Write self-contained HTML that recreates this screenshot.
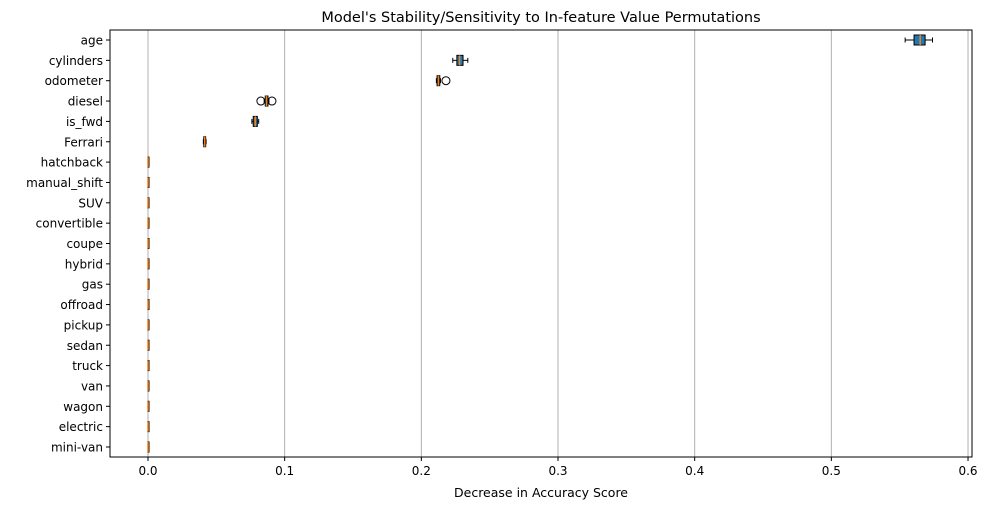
<!DOCTYPE html>
<html><head><meta charset="utf-8"><style>
body{margin:0;background:#fff;font-family:"Liberation Sans","DejaVu Sans",sans-serif}
svg text{font-family:"DejaVu Sans","Liberation Sans",sans-serif}
</style></head><body>
<svg id="c" width="989" height="510"></svg>
<script>
const features=["age","cylinders","odometer","diesel","is_fwd","Ferrari","hatchback","manual_shift","SUV","convertible","coupe","hybrid","gas","offroad","pickup","sedan","truck","van","wagon","electric","mini-van"];
const whiskerLow=[0.554,0.223,0.211,0.085,0.076,0.0405,0,0,0,0,0,0,0,0,0,0,0,0,0,0,0];
const q1s=[0.5605,0.226,0.2115,0.0858,0.077,0.0408,0,0,0,0,0,0,0,0,0,0,0,0,0,0,0];
const medians=[0.565,0.228,0.2125,0.0867,0.0785,0.0415,0,0,0,0,0,0,0,0,0,0,0,0,0,0,0];
const q3s=[0.5686,0.2305,0.2135,0.0878,0.080,0.0422,0,0,0,0,0,0,0,0,0,0,0,0,0,0,0];
const whiskerHigh=[0.574,0.234,0.214,0.0885,0.081,0.0425,0,0,0,0,0,0,0,0,0,0,0,0,0,0,0];
const outliers=[[],[],[0.218],[0.0826,0.0907],[],[],[],[],[],[],[],[],[],[],[],[],[],[],[],[],[]];
const xTicks=[0,0.1,0.2,0.3,0.4,0.5,0.6];
const xTickLabels=["0.0","0.1","0.2","0.3","0.4","0.5","0.6"];
const L=110,R=972,T=30,B=457;
const x=v=>148+v*1366.7;
const y=i=>40+i*20.35;
const svg=document.getElementById('c');
const NS="http://www.w3.org/2000/svg";
function add(tag,attrs,parent){const e=document.createElementNS(NS,tag);for(const k in attrs)e.setAttribute(k,attrs[k]);(parent||svg).appendChild(e);return e;}
// grid
xTicks.forEach((t,i)=>{
 const g=add('line',{x1:x(t),x2:x(t),y1:T,y2:B,stroke:'#b0b0b0','stroke-width':1});
 
 
 add('line',{x1:x(t),x2:x(t),y1:B,y2:B+4,stroke:'#000'});
 const tx=add('text',{x:x(t),y:B+18,'text-anchor':'middle','font-size':12});
 tx.textContent=xTickLabels[i];
 
 
});
features.forEach((f,i)=>{
 const yc=y(i);
 add('line',{x1:L-4,x2:L,y1:yc,y2:yc,stroke:'#000'});
 const tx=add('text',{x:L-7,y:yc+4.5,'text-anchor':'end','font-size':12});
 tx.textContent=f;
 
 
 const g=add('g',{});
 
 
 const h=5;
 add('line',{x1:x(whiskerLow[i]),x2:x(q1s[i]),y1:yc,y2:yc,stroke:'#000'},g);
 add('line',{x1:x(q3s[i]),x2:x(whiskerHigh[i]),y1:yc,y2:yc,stroke:'#000'},g);
 add('line',{x1:x(whiskerLow[i]),x2:x(whiskerLow[i]),y1:yc-2.5,y2:yc+2.5,stroke:'#000'},g);
 add('line',{x1:x(whiskerHigh[i]),x2:x(whiskerHigh[i]),y1:yc-2.5,y2:yc+2.5,stroke:'#000'},g);
 const bw=Math.max(x(q3s[i])-x(q1s[i]),1);
 add('rect',{x:x(q1s[i]),y:yc-h,width:bw,height:2*h,fill:'#1f77b4',stroke:'#000','stroke-width':1},g);
 add('line',{x1:x(medians[i]),x2:x(medians[i]),y1:yc-h,y2:yc+h,stroke:'#ff7f0e','stroke-width':1.5},g);
 outliers[i].forEach(o=>{add('circle',{cx:x(o),cy:yc,r:4,fill:'none',stroke:'#000'},g);});
});
const fr=add('rect',{x:L,y:T,width:R-L,height:B-T,fill:'none',stroke:'#000','stroke-width':1});


const title=add('text',{x:(L+R)/2,y:22,'text-anchor':'middle','font-size':14.5});
title.textContent="Model's Stability/Sensitivity to In-feature Value Permutations";


const xl=add('text',{x:(L+R)/2,y:497,'text-anchor':'middle','font-size':12.5});
xl.textContent="Decrease in Accuracy Score";


</script>
</body></html>
